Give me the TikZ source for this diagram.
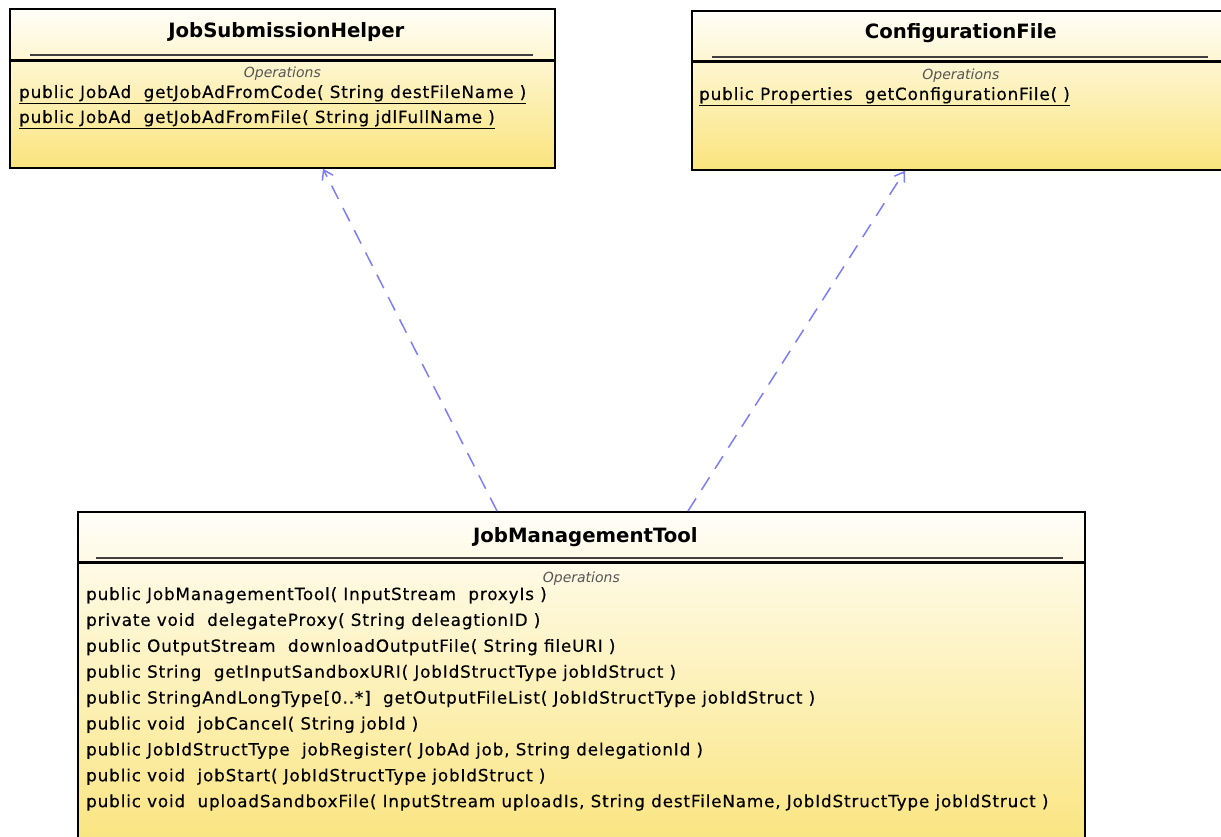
\documentclass[tikz,border=0pt]{standalone}
\usepackage{fontspec}
\setmainfont{DejaVu Sans}
\newfontfamily\methfont[LetterSpace=5, FakeBold=0.4]{DejaVu Sans}
\usetikzlibrary{calc,arrows.meta}

\definecolor{umltop}{RGB}{255,254,248}
\definecolor{umlbot}{RGB}{250,228,125}
\definecolor{depblue}{RGB}{125,125,250}
\definecolor{opgray}{RGB}{85,85,85}

\begin{document}
\begin{tikzpicture}[x=1pt, y=-1pt,
    umlbox/.style = {draw=black, line width=1.7pt, anchor=north west, inner sep=0pt,
                     top color=umltop, bottom color=umlbot},
    clsname/.style = {font=\fontsize{19.7}{22}\selectfont\bfseries, anchor=base, inner sep=0pt},
    opslabel/.style = {font=\fontsize{14}{16}\selectfont\itshape, text=opgray, anchor=base, inner sep=0pt},
    meth/.style = {font=\fontsize{16.8}{19}\methfont, anchor=base west, inner sep=0pt},
    thinsep/.style = {line width=1.5pt, black!75},
    thicksep/.style = {line width=3pt, black},
    dep/.style = {depblue, line width=1.5pt, dash pattern=on 15pt off 10pt,
                  -{Straight Barb[length=9pt,width=12pt]}}]
      \clip[use as bounding box] (0,0) rectangle (1221,837);

      % JobSubmissionHelper
      \node[umlbox, minimum width=545pt, minimum height=159pt] (jsh) at (9,8) {};
      \node[clsname] (jshT) at ($ (jsh.north) + (4,30) $) {JobSubmissionHelper};
      \draw[thinsep] ($ (jsh.north west) + (21,47) $) -- ($ (jsh.north east) + (-23,47) $);
      \draw[thicksep] ($ (jsh.north west) + (0,53) $) -- ($ (jsh.north east) + (0,53) $);
      \node[opslabel] (jshO) at ($ (jsh.north) + (0,70) $) {Operations};
      \node[meth] (jsh1) at ($ (jsh.north west) + (10,90) $) {\underline{public JobAd~ getJobAdFromCode( String destFileName )}};
      \node[meth] (jsh2) at ($ (jsh1.base west) + (0,25) $) {\underline{public JobAd~ getJobAdFromFile( String jdlFullName )}};

      % ConfigurationFile
      \node[umlbox, minimum width=538pt, minimum height=159pt] (cfg) at (691,10) {};
      \node[clsname] (cfgT) at ($ (cfg.north) + (0,29) $) {ConfigurationFile};
      \draw[thinsep] ($ (cfg.north west) + (21,47) $) -- ($ (cfg.north east) + (-23,47) $);
      \draw[thicksep] ($ (cfg.north west) + (0,52) $) -- ($ (cfg.north east) + (0,52) $);
      \node[opslabel] (cfgO) at ($ (cfg.north) + (0,70) $) {Operations};
      \node[meth] (cfg1) at ($ (cfg.north west) + (8,90) $) {\underline{public Properties~ getConfigurationFile( )}};

      % JobManagementTool
      \node[umlbox, minimum width=1007pt, minimum height=340pt] (jmt) at (77,511) {};
      \node[clsname] (jmtT) at ($ (jmt.north) + (4,31) $) {JobManagementTool};
      \draw[thinsep] ($ (jmt.north west) + (19,47) $) -- ($ (jmt.north east) + (-23,47) $);
      \draw[thicksep] ($ (jmt.north west) + (0,51) $) -- ($ (jmt.north east) + (0,51) $);
      \node[opslabel] (jmtO) at ($ (jmt.north) + (0,71) $) {Operations};
      \node[meth] (jmt1) at ($ (jmt.north west) + (9,89) $) {public JobManagementTool( InputStream~ proxyIs )};
      \node[meth] (jmt2) at ($ (jmt1.base west) + (0,25.9) $) {private void~ delegateProxy( String deleagtionID )};
      \node[meth] (jmt3) at ($ (jmt2.base west) + (0,25.9) $) {public OutputStream~ downloadOutputFile( String fileURI )};
      \node[meth] (jmt4) at ($ (jmt3.base west) + (0,25.9) $) {public String~ getInputSandboxURI( JobIdStructType jobIdStruct )};
      \node[meth] (jmt5) at ($ (jmt4.base west) + (0,25.9) $) {public StringAndLongType[0..*]~ getOutputFileList( JobIdStructType jobIdStruct )};
      \node[meth] (jmt6) at ($ (jmt5.base west) + (0,25.9) $) {public void~ jobCancel( String jobId )};
      \node[meth] (jmt7) at ($ (jmt6.base west) + (0,25.9) $) {public JobIdStructType~ jobRegister( JobAd job, String delegationId )};
      \node[meth] (jmt8) at ($ (jmt7.base west) + (0,25.9) $) {public void~ jobStart( JobIdStructType jobIdStruct )};
      \node[meth] (jmt9) at ($ (jmt8.base west) + (0,25.9) $) {public void~ uploadSandboxFile( InputStream uploadIs, String destFileName, JobIdStructType jobIdStruct )};

      % dependencies
      \draw[dep] (497,0 |- jmt.north) -- (323,0 |- jsh.south);
      \draw[dep] (688,0 |- jmt.north) -- (905,0 |- cfg.south);
    \end{tikzpicture}
\end{document}
